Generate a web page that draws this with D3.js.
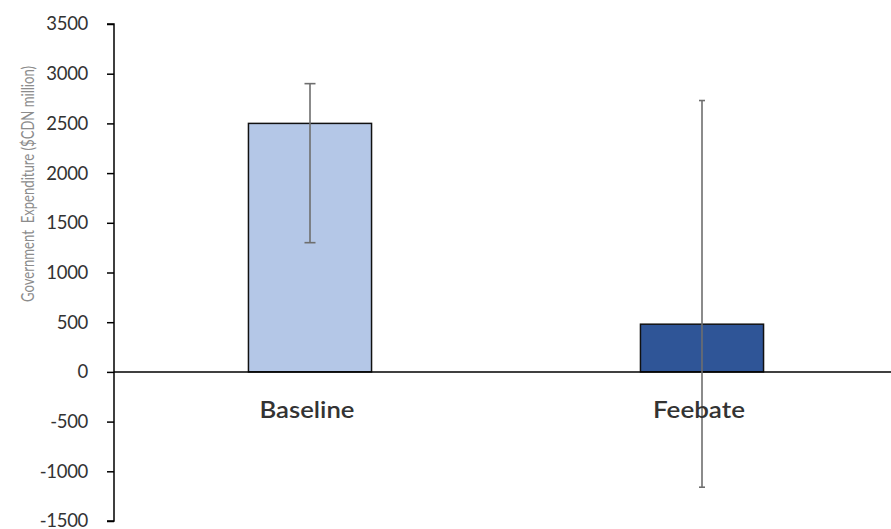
<!DOCTYPE html>
<html><head><meta charset="utf-8">
<script src="https://cdn.jsdelivr.net/npm/d3@7"></script>
<style>body{margin:0;background:#fff}svg{display:block}</style>
</head><body>
<script>
const categories = ["Baseline", "Feebate"];
const values = [2500, 480];
const errLow = [1300, -1160];
const errHigh = [2900, 2730];
const yTicks = [-1500, -1000, -500, 0, 500, 1000, 1500, 2000, 2500, 3000, 3500];
const barColors = ["#b4c7e7", "#2f5597"];
const yTitle = "Government  Expenditure ($CDN million)";

const W = 891, H = 529;
const FONT = "Lato, 'Open Sans', sans-serif";
const svg = d3.select("body").append("svg").attr("width", W).attr("height", H);

const y = d3.scaleLinear().domain([-1500, 3500]).range([521, 24]);
const x = d3.scaleBand().domain(categories).range([114, 898]).paddingInner(0).paddingOuter(0);
const bw = x.bandwidth() * 0.314;

// y axis
const yAxis = d3.axisLeft(y).tickValues(yTicks).tickSize(7).tickPadding(19)
  .tickFormat(d => String(d).replace("−", "-"));
const gy = svg.append("g").attr("transform", "translate(114,0)").call(yAxis);
gy.select(".domain").attr("stroke", "#000").attr("stroke-width", 1.5).attr("d", `M-7,${y(3500)}H0V${y(-1500)}H-7`);
gy.selectAll(".tick line").attr("stroke", "#000").attr("stroke-width", 1.5);
gy.selectAll(".tick text").attr("font-family", FONT).attr("font-size", 18.5).attr("fill", "#333")
  .attr("letter-spacing", -0.3);

// bars
svg.selectAll("rect.bar").data(categories).join("rect")
  .attr("class", "bar")
  .attr("x", d => x(d) + x.bandwidth() / 2 - bw / 2)
  .attr("width", bw)
  .attr("y", (d, i) => y(Math.max(0, values[i])))
  .attr("height", (d, i) => Math.abs(y(values[i]) - y(0)))
  .attr("fill", (d, i) => barColors[i])
  .attr("stroke", "#111").attr("stroke-width", 1.5);

// zero line
svg.append("line").attr("x1", 114).attr("x2", W).attr("y1", y(0)).attr("y2", y(0))
  .attr("stroke", "#000").attr("stroke-width", 1.5);

// error bars
const capW = [11, 6];
categories.forEach((c, i) => {
  const cx = x(c) + x.bandwidth() / 2;
  const g = svg.append("g").attr("stroke", "#6e6e6e").attr("stroke-width", 1.6);
  g.append("line").attr("x1", cx).attr("x2", cx).attr("y1", y(errHigh[i])).attr("y2", y(errLow[i]));
  g.append("line").attr("x1", cx - capW[i] / 2).attr("x2", cx + capW[i] / 2).attr("y1", y(errHigh[i])).attr("y2", y(errHigh[i]));
  g.append("line").attr("x1", cx - capW[i] / 2).attr("x2", cx + capW[i] / 2).attr("y1", y(errLow[i])).attr("y2", y(errLow[i]));
});

// category labels
const catLen = [95, 92];
svg.selectAll("text.cat").data(categories).join("text")
  .attr("class", "cat")
  .attr("x", d => x(d) + x.bandwidth() / 2 - 3)
  .attr("y", 418)
  .attr("text-anchor", "middle")
  .attr("font-family", FONT)
  .attr("font-size", 22).attr("font-weight", 600)
  .attr("fill", "#333")
  .attr("textLength", (d, i) => catLen[i])
  .attr("lengthAdjust", "spacingAndGlyphs")
  .text(d => d);

// y title
svg.append("text")
  .attr("transform", `translate(34,${184}) rotate(-90)`)
  .attr("text-anchor", "middle")
  .attr("font-family", FONT)
  .attr("font-size", 17)
  .attr("fill", "#8c8c8c")
  .attr("textLength", 236)
  .attr("lengthAdjust", "spacingAndGlyphs")
  .style("white-space", "pre")
  .text(yTitle);
</script>
</body></html>
